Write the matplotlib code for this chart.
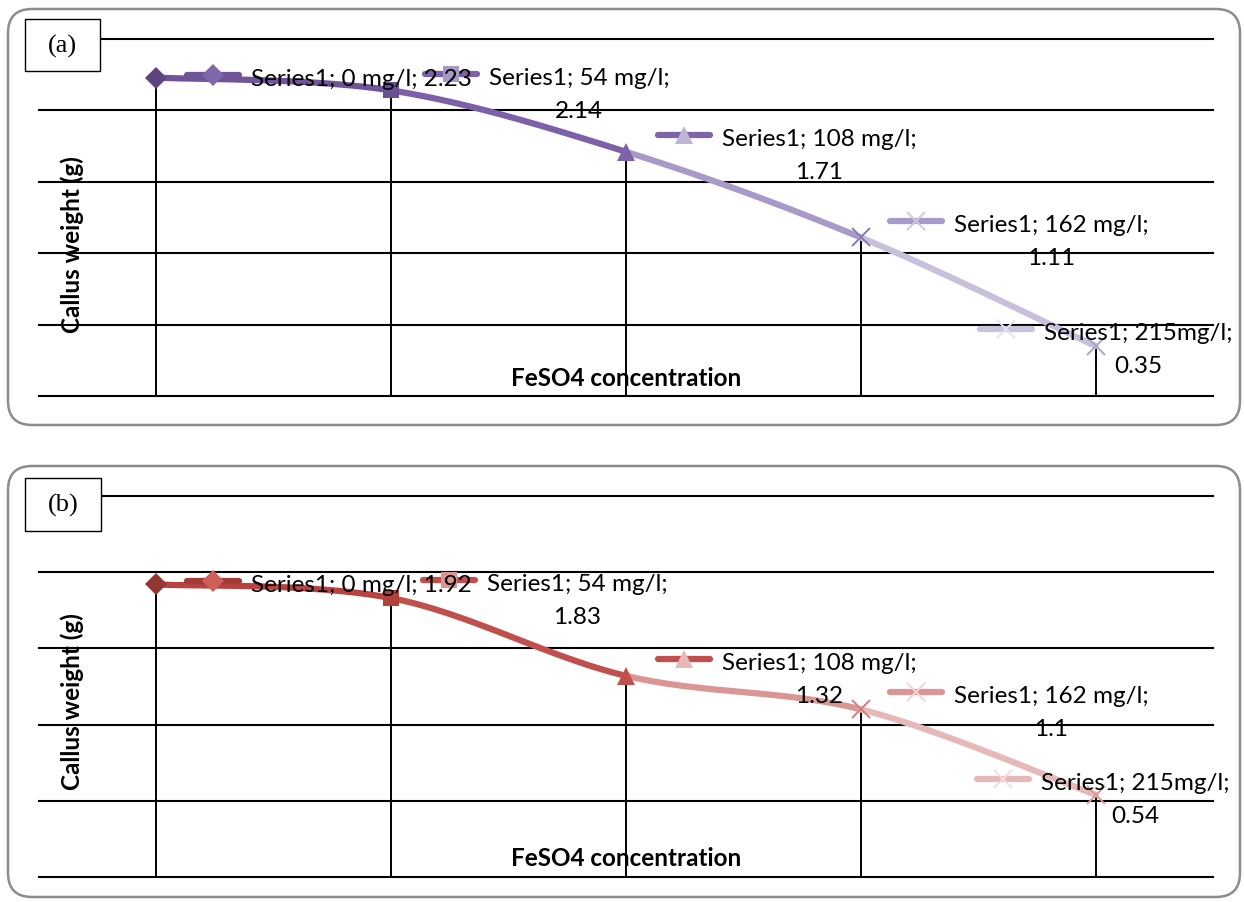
import numpy as np
import matplotlib
matplotlib.use("Agg")
import matplotlib.pyplot as plt
from matplotlib import transforms as mtrans, patches

# ---------------- data ----------------
series_name = "Series1"
categories = ["0 mg/l", "54 mg/l", "108 mg/l", "162 mg/l", "215mg/l"]
weights_a = [2.23, 2.14, 1.71, 1.11, 0.35]
weights_b = [1.92, 1.83, 1.32, 1.1, 0.54]
y_ticks = [0, 0.5, 1.0, 1.5, 2.0, 2.5]
panel_labels = ["(a)", "(b)"]
x_title = "FeSO4 concentration"
y_title = "Callus weight (g)"

# ---------------- style / layout ----------------
W, H = 1244, 903
FONT = "Lato"
markers = ["D", "s", "^", "x", "x"]
msizes = [11, 12, 13, 13, 13]
wrap = [False, True, True, True, True]

style_a = dict(
    seg=["#6F5597", "#7C61A8", "#A899C8", "#C8BFDC"],
    mk=["#5E4580", "#6A5090", "#7D62A9", "#8A78B4", "#AEA1CB"],
    keyline=["#6F5597", "#7C60A8", "#7E63A9", "#A99BC9", "#CBC2DE"],
    keymk=["#8066AA", "#A699C6", "#C0B5D7", "#D0C8E2", "#E5E0EE"],
)
style_b = dict(
    seg=["#B7423F", "#C0504D", "#D99694", "#E6B9B8"],
    mk=["#943634", "#B2403D", "#C0504D", "#D47D7A", "#DA9A98"],
    keyline=["#A53B38", "#C0504D", "#C0504D", "#D99694", "#E6B9B8"],
    keymk=["#CF5F5B", "#D99694", "#E6B9B8", "#F0D5D4", "#F2DCDB"],
)
# key (legend-symbol) centres of the data labels, in data coordinates
label_pos_a = [(0.240, 2.248), (1.253, 2.255), (2.245, 1.828), (3.236, 1.225), (3.619, 0.469)]
label_pos_b = [(0.240, 1.941), (1.245, 1.947), (2.245, 1.428), (3.236, 1.211), (3.606, 0.645)]

panels = [
    dict(vals=weights_a, st=style_a, lp=label_pos_a, plot=(39, 40, 1213, 397),
         box=(8, 10, 1240, 426), lbox=(25, 20, 100, 72), ylab_y=245, xlab_y=378),
    dict(vals=weights_b, st=style_b, lp=label_pos_b, plot=(39, 497, 1213, 878),
         box=(8, 467, 1240, 898), lbox=(25, 479, 101, 532), ylab_y=702, xlab_y=859),
]

fig = plt.figure(figsize=(W / 100, H / 100), dpi=100)
ident = mtrans.IdentityTransform()


def catmull(pts, n=40):
    pts = np.asarray(pts, float)
    ext = np.vstack([pts[0], pts, pts[-1]])
    segs = []
    for i in range(len(pts) - 1):
        p0, p1, p2, p3 = ext[i], ext[i + 1], ext[i + 2], ext[i + 3]
        t = np.linspace(0, 1, n)[:, None]
        c = 0.5 * ((2 * p1) + (-p0 + p2) * t + (2 * p0 - 5 * p1 + 4 * p2 - p3) * t ** 2
                   + (-p0 + 3 * p1 - 3 * p2 + p3) * t ** 3)
        segs.append(c)
    return segs


for pi, P in enumerate(panels):
    l, t, r, b = P["plot"]
    ax = fig.add_axes([l / W, 1 - b / H, (r - l) / W, (b - t) / H])
    ax.set_xlim(-0.5, len(categories) - 0.5)
    ax.set_ylim(y_ticks[0], y_ticks[-1])
    ax.axis("off")
    xs = np.arange(len(categories))
    vals = P["vals"]
    st = P["st"]

    for yv in y_ticks:
        ax.axhline(yv, color="black", lw=1.5, zorder=1, clip_on=False)
    ax.vlines(xs, 0, vals, color="black", lw=1.4, zorder=2)

    # smoothed line, segment colours
    disp = ax.transData.transform(np.column_stack([xs, vals]))
    inv = ax.transData.inverted()
    for si, seg in enumerate(catmull(disp)):
        d = inv.transform(seg)
        ax.plot(d[:, 0], d[:, 1], color=st["seg"][si], lw=4.5, solid_capstyle="round",
                zorder=3, clip_on=False)
    for i in range(len(xs)):
        mew = 1.4 if markers[i] == "x" else 0
        ax.plot(xs[i], vals[i], marker=markers[i], ms=msizes[i], color=st["mk"][i],
                mec=st["mk"][i], mew=mew, ls="none", zorder=4, clip_on=False)

    # data labels with legend keys
    renderer = fig.canvas.get_renderer()
    for i in range(len(xs)):
        kx, ky = ax.transData.transform(P["lp"][i])
        ax.plot([kx - 26, kx + 26], [ky, ky], color=st["keyline"][i], lw=4.5,
                solid_capstyle="round", transform=ident, clip_on=False, zorder=5)
        mew = 1.4 if markers[i] == "x" else 0
        ax.plot([kx], [ky], marker=markers[i], ms=msizes[i], color=st["keymk"][i],
                mec=st["keymk"][i], mew=mew, transform=ident, clip_on=False, zorder=6)
        line1 = f"{series_name}; {categories[i]};"
        if not wrap[i]:
            line1 = f"{line1} {vals[i]}"
        t1 = ax.text(kx + 38, ky - 10, line1, transform=ident, ha="left", va="baseline",
                     fontsize=17.5, family=FONT, color="black", zorder=7)
        if wrap[i]:
            bb = t1.get_window_extent(renderer)
            ax.text((bb.x0 + bb.x1) / 2, ky - 10 - 33, f"{vals[i]}", transform=ident,
                    ha="center", va="baseline", fontsize=17.5, family=FONT,
                    color="black", zorder=7)

    # axis titles
    fig.text(72 / W, 1 - P["ylab_y"] / H, y_title, rotation=90, ha="center", va="center",
             fontsize=17.5, fontweight="bold", family=FONT)
    fig.text(626 / W, 1 - P["xlab_y"] / H, x_title, ha="center", va="center",
             fontsize=17.5, fontweight="bold", family=FONT)

    # rounded outer frame
    x0, y0, x1, y1 = P["box"]
    fr = patches.FancyBboxPatch((x0, H - y1), x1 - x0, y1 - y0,
                                boxstyle="round,pad=0,rounding_size=24",
                                transform=ident, fill=False, ec="#8C8C8C", lw=1.8, zorder=0)
    fig.add_artist(fr)
    # panel label box
    bx0, by0, bx1, by1 = P["lbox"]
    rb = patches.Rectangle((bx0, H - by1), bx1 - bx0, by1 - by0, transform=ident,
                           fc="white", ec="black", lw=1.0, zorder=10)
    fig.add_artist(rb)
    fig.text(((bx0 + bx1) / 2) / W, 1 - ((by0 + by1) / 2) / H, panel_labels[pi],
             ha="center", va="center", fontsize=19, family="Liberation Serif", zorder=11)

fig.savefig("out.png", dpi=100)
